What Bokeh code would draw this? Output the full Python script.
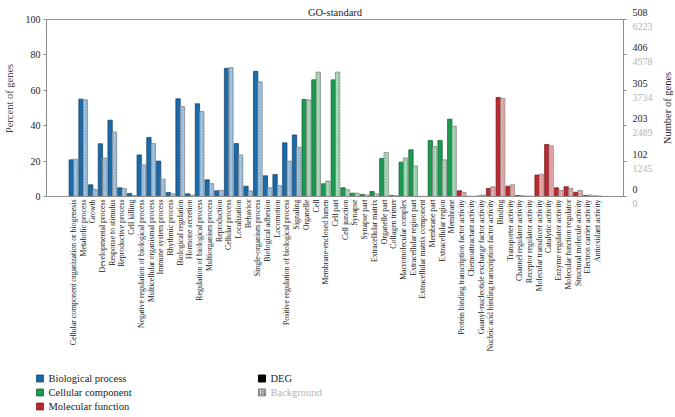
import math
from bokeh.plotting import figure
from bokeh.layouts import column, row
from bokeh.models import (ColumnDataSource, Range1d, FixedTicker, LinearAxis, Span)
from bokeh.embed import file_html
from bokeh.resources import INLINE

FONT = "Liberation Serif"

# ---------------- data ----------------
bp_terms = ["Cellular component organization or biogenesis", "Metabolic process", "Growth",
            "Developmental process", "Response to stimulus", "Reproductive process", "Cell killing",
            "Negative regulation of biological process", "Multicellular organismal process",
            "Immune system process", "Rhythmic process", "Biological regulation", "Hormone secretion",
            "Regulation of biological process", "Multiorganism process", "Reproduction",
            "Cellular process", "Localization", "Behavior", "Single-organism process",
            "Biological adhesion", "Locomotion", "Positive regulation of biological process", "Signaling"]
bp_deg = [20.7, 55.0, 6.6, 29.8, 43.1, 4.9, 1.7, 23.5, 33.3, 20.0, 2.3, 55.2, 1.5, 52.4, 9.4, 3.2,
          72.4, 29.9, 5.8, 70.7, 11.7, 12.4, 30.3, 34.8]
bp_bg = [21.1, 54.6, 4.0, 21.8, 36.5, 4.5, 0.6, 17.9, 29.9, 9.8, 1.5, 50.8, 0.9, 48.0, 7.3, 3.6,
         72.8, 23.5, 3.2, 64.8, 4.9, 6.2, 20.0, 27.9]

cc_terms = ["Organelle", "Cell", "Membrane-enclosed lumen", "Cell part", "Cell junction", "Synapse",
            "Synapse part", "Extracellular matrix", "Organelle part", "Collagen trimer",
            "Macromolecular complex", "Extracellular region part", "Extracellular matrix component",
            "Membrane part", "Extracellular region", "Membrane"]
cc_deg = [54.8, 65.9, 7.2, 65.9, 4.9, 1.9, 1.1, 2.8, 21.5, 0.6, 19.4, 26.4, 0.1, 31.6, 31.6, 43.7]
cc_bg = [54.6, 70.3, 8.7, 70.3, 3.8, 1.9, 0.9, 1.5, 24.9, 0.5, 21.8, 17.3, 0.1, 28.2, 20.7, 39.7]

mf_terms = ["Protein binding transcription factor activity", "Chemoattractant activity",
            "Guanyl-nucleotide exchange factor activity",
            "Nucleic acid binding transcription factor activity", "Binding", "Transporter activity",
            "Channel regulator activity", "Receptor regulator activity", "Molecular transducer activity",
            "Catalytic activity", "Enzyme regulator activity", "Molecular function regulator",
            "Structural molecule activity", "Electron carrier activity", "Antioxidant activity"]
mf_deg = [3.2, 0.1, 0.3, 4.5, 55.9, 5.8, 0.5, 0.2, 12.1, 29.4, 4.9, 5.5, 2.4, 0.5, 0.3]
mf_bg = [2.3, 0.1, 0.9, 5.5, 55.4, 6.6, 0.5, 0.2, 12.6, 28.6, 3.4, 4.5, 3.4, 0.9, 0.3]

group_names = ["Biological process", "Cellular component", "Molecular function"]
series_names = ["DEG", "Background"]
pct_ticks = [0, 20, 40, 60, 80, 100]
deg_count_labels = ["0", "102", "203", "305", "406", "508"]
bg_count_labels = ["0", "1245", "2489", "3734", "4978", "6223"]
title_text = "GO-standard"

# ---------------- styles / layout ----------------
colors = ["#1b6aaa", "#1c9a50", "#c1272d"]
dark = ["#0d3d66", "#0d5a2c", "#6e1216"]
light = ["#bcd5ea", "#bfe6cd", "#f1c4c6"]
AX = "#8c8c8c"
TXT = "#222222"
GRAY_TXT = "#b4b4b4"

FRAME_H = 177          # height of the 0..100 % span
TOP_PAD = 19           # space above 100 % inside the frame (title lives there)
px_per = FRAME_H / 100.0
y_top = 100 + TOP_PAD / px_per

all_terms = bp_terms + cc_terms + mf_terms
n = len(all_terms)
x_start, x_end = -1.78, n + 2.68
bw = 0.45

p = figure(frame_width=577, frame_height=FRAME_H + TOP_PAD, min_border_left=45, min_border_top=0,
           min_border_right=5, min_border_bottom=169,
           x_range=Range1d(x_start, x_end), y_range=Range1d(0, y_top),
           output_backend="svg", toolbar_location=None)
p.xgrid.visible = False
p.ygrid.visible = False
p.outline_line_color = None
p.add_layout(Span(location=100, dimension="width", line_color=AX, line_width=1))

offset = 0
for gi, (terms, deg, bg) in enumerate([(bp_terms, bp_deg, bp_bg), (cc_terms, cc_deg, cc_bg),
                                        (mf_terms, mf_deg, mf_bg)]):
    xs = [offset + i + 1 for i in range(len(terms))]
    src = ColumnDataSource(dict(xd=[x - bw / 2 for x in xs], xb=[x + bw / 2 for x in xs],
                                deg=deg, bg=bg))
    p.vbar(x="xd", top="deg", bottom=0, width=bw, source=src, fill_color=colors[gi],
           line_color=dark[gi], line_width=0.7)
    p.vbar(x="xb", top="bg", bottom=0, width=bw, source=src, fill_color=light[gi],
           hatch_pattern="/", hatch_color=colors[gi], hatch_alpha=0.55, hatch_scale=3,
           hatch_weight=0.7, line_color="#7d7d7d", line_width=0.7)
    offset += len(terms)

p.text(x=[(x_start + x_end) / 2], y=[100], text=[title_text], y_offset=-7,
       text_align="center", text_baseline="middle", text_font={"value": FONT},
       text_font_size="10.5px", text_color=TXT)

# ---------------- axes ----------------
xa = p.xaxis[0]
xa.ticker = FixedTicker(ticks=list(range(1, n + 1)))
xa.major_label_overrides = {i + 1: t for i, t in enumerate(all_terms)}
xa.major_label_orientation = math.pi / 2
xa.major_label_text_font = FONT
xa.major_label_text_font_size = "7.8px"
xa.major_label_text_color = TXT
xa.major_label_standoff = 3
xa.major_tick_out = 0
xa.major_tick_in = 0
xa.minor_tick_out = 0
xa.minor_tick_in = 0
xa.axis_line_color = AX

ya = p.yaxis[0]
ya.ticker = FixedTicker(ticks=pct_ticks)
ya.bounds = (0, 100)
ya.axis_label = "Percent of genes"
ya.axis_label_text_font = FONT
ya.axis_label_text_font_style = "normal"
ya.axis_label_text_font_size = "10.5px"
ya.axis_label_standoff = 8
ya.major_label_text_font = FONT
ya.major_label_text_font_size = "10px"
ya.major_label_text_color = TXT
ya.major_label_standoff = 3
ya.major_tick_out = 3
ya.major_tick_in = 0
ya.minor_tick_out = 0
ya.minor_tick_in = 0
ya.axis_line_color = AX
ya.major_tick_line_color = AX

ra = LinearAxis(ticker=FixedTicker(ticks=pct_ticks), bounds=(0, 100),
                major_label_overrides={v: "" for v in pct_ticks}, major_label_standoff=0,
                major_tick_out=3, major_tick_in=0, minor_tick_out=0, minor_tick_in=0,
                axis_line_color=AX, major_tick_line_color=AX)
p.add_layout(ra, "right")

# ---------------- right-hand count labels ----------------
R_W = 46
R_H = 215
pr = figure(frame_width=R_W, frame_height=R_H, min_border=0,
            x_range=Range1d(0, R_W), y_range=Range1d(y_top - R_H / px_per, y_top),
            x_axis_location=None, y_axis_location=None,
            output_backend="svg", toolbar_location=None)
pr.outline_line_color = None
pr.xgrid.visible = False
pr.ygrid.visible = False
lab_src = ColumnDataSource(dict(x=[4] * len(pct_ticks), y=pct_ticks,
                                deg=deg_count_labels, bg=bg_count_labels))
pr.text(x="x", y="y", text="deg", source=lab_src, y_offset=-7, text_align="left",
        text_baseline="middle", text_font={"value": FONT}, text_font_size="10px", text_color=TXT)
pr.text(x="x", y="y", text="bg", source=lab_src, y_offset=7, text_align="left",
        text_baseline="middle", text_font={"value": FONT}, text_font_size="10px",
        text_color=GRAY_TXT)
pr.text(x=[39], y=[50], text=["Number of genes"], angle=math.pi / 2, text_align="center",
        text_baseline="middle", text_font={"value": FONT}, text_font_size="10.5px",
        text_color=TXT)

# ---------------- legend strip (pixel coordinates, y downwards) ----------------
L_W, L_H = 673, 50
pl = figure(frame_width=L_W, frame_height=L_H, min_border=0,
            x_range=Range1d(0, L_W), y_range=Range1d(L_H, 0),
            x_axis_location=None, y_axis_location=None,
            output_backend="svg", toolbar_location=None)
pl.outline_line_color = None
pl.xgrid.visible = False
pl.ygrid.visible = False

row_y = [13, 27, 41]
SQ = 7
col1_x, col2_x = 36, 258
leg_src = ColumnDataSource(dict(x=[col1_x + SQ + 5] * 3, y=row_y, label=group_names,
                                tc=[TXT] * 3))
pl.text(x="x", y="y", text="label", source=leg_src, text_align="left",
        text_baseline="middle", text_font={"value": FONT}, text_font_size="10.5px",
        text_color="tc")
ser_src = ColumnDataSource(dict(x=[col2_x + SQ + 5] * 2, y=row_y[:2], label=series_names,
                                tc=[TXT, GRAY_TXT]))
pl.text(x="x", y="y", text="label", source=ser_src, text_align="left",
        text_baseline="middle", text_font={"value": FONT}, text_font_size="10.5px",
        text_color="tc")
pl.rect(x=[col1_x + SQ / 2] * 3, y=row_y, width=SQ, height=SQ, fill_color=colors,
        line_color=dark, line_width=0.7)
pl.rect(x=[col2_x + SQ / 2], y=[row_y[0]], width=SQ, height=SQ, fill_color="black",
        line_color="black")
pl.rect(x=[col2_x + SQ / 2], y=[row_y[1]], width=SQ, height=SQ, fill_color="white",
        hatch_pattern="/", hatch_color="#444444", hatch_scale=2.5, hatch_weight=0.8,
        line_color="#777777", line_width=0.8)

layout = column(row(p, pr, spacing=0), pl, spacing=0)
open("out.html", "w").write(file_html(layout, INLINE))
